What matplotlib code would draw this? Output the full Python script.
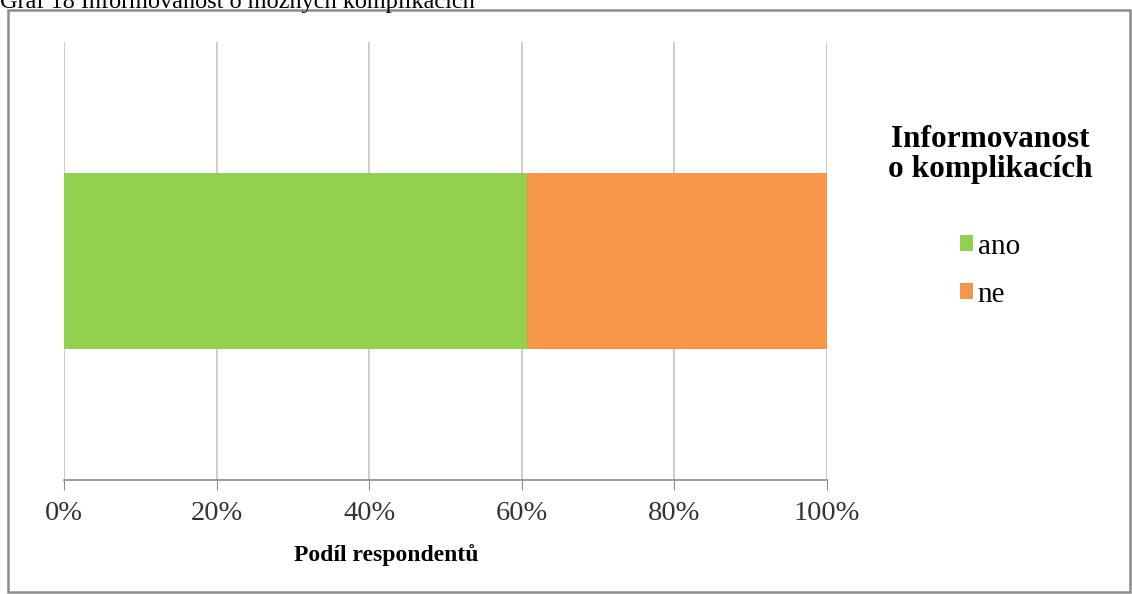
import matplotlib.pyplot as plt
from matplotlib.patches import Rectangle
from matplotlib.ticker import PercentFormatter

plt.rcParams['font.family'] = ['Liberation Serif', 'DejaVu Serif']

# share of respondents informed about possible complications
categories = ['ano', 'ne']
shares = [60.7, 39.3]
colors = ['#92D050', '#F79646']
xticks = [0, 20, 40, 60, 80, 100]

fig = plt.figure(figsize=(11.32, 5.94), dpi=100)
W, H = 1132, 594

# outer chart frame
fig.patches.append(Rectangle((8 / W, 1 - 592 / H), 1122 / W, 582 / H,
                             transform=fig.transFigure, fill=False,
                             edgecolor='#8c8c8c', linewidth=1.8))

# caption that is cut off at the top
fig.text(0.0, 1 - 8 / H, 'Graf 18 Informovanost o možných komplikacích',
         fontsize=17.5, va='baseline', ha='left')

ax = fig.add_axes([64 / W, 1 - 480 / H, (827 - 64) / W, (480 - 42) / H])

left = 0
for cat, val, col in zip(categories, shares, colors):
    ax.barh(0, val, left=left, height=0.4, color=col, label=cat, zorder=2)
    left += val

ax.set_xlim(0, 100)
ax.set_ylim(-0.5, 0.5)
ax.set_xticks(xticks)
ax.xaxis.set_major_formatter(PercentFormatter(decimals=0))
ax.set_yticks([])
ax.grid(axis='x', color='#c4c4c4', linewidth=1.2, zorder=0)
for s in ['top', 'right', 'left']:
    ax.spines[s].set_visible(False)
ax.spines['bottom'].set_color('#8c8c8c')
ax.spines['bottom'].set_linewidth(1.2)
ax.tick_params(axis='x', length=7, color='#8c8c8c', labelsize=20.5, pad=8,
               labelcolor='#333333')
ax.set_xlabel('Podíl respondentů', fontsize=17, fontweight='bold')
ax.xaxis.label.set_va('center')
ax.xaxis.set_label_coords((386 - 64) / 763, -(555 - 480) / 438)

leg = fig.legend(loc='upper center', bbox_to_anchor=(990 / W, 1 - 110 / H),
                 title='Informovanost\no komplikacích', frameon=False,
                 fontsize=21, handlelength=0.45, handleheight=0.45,
                 handletextpad=0.15, labelspacing=0.75, borderpad=0)
leg.get_title().set_fontsize(22.5)
leg.get_title().set_fontweight('bold')
leg.get_title().set_multialignment('center')
leg.get_title().set_linespacing(1.05)
leg._legend_box.sep = 36

fig.savefig('out.png', dpi=100)
